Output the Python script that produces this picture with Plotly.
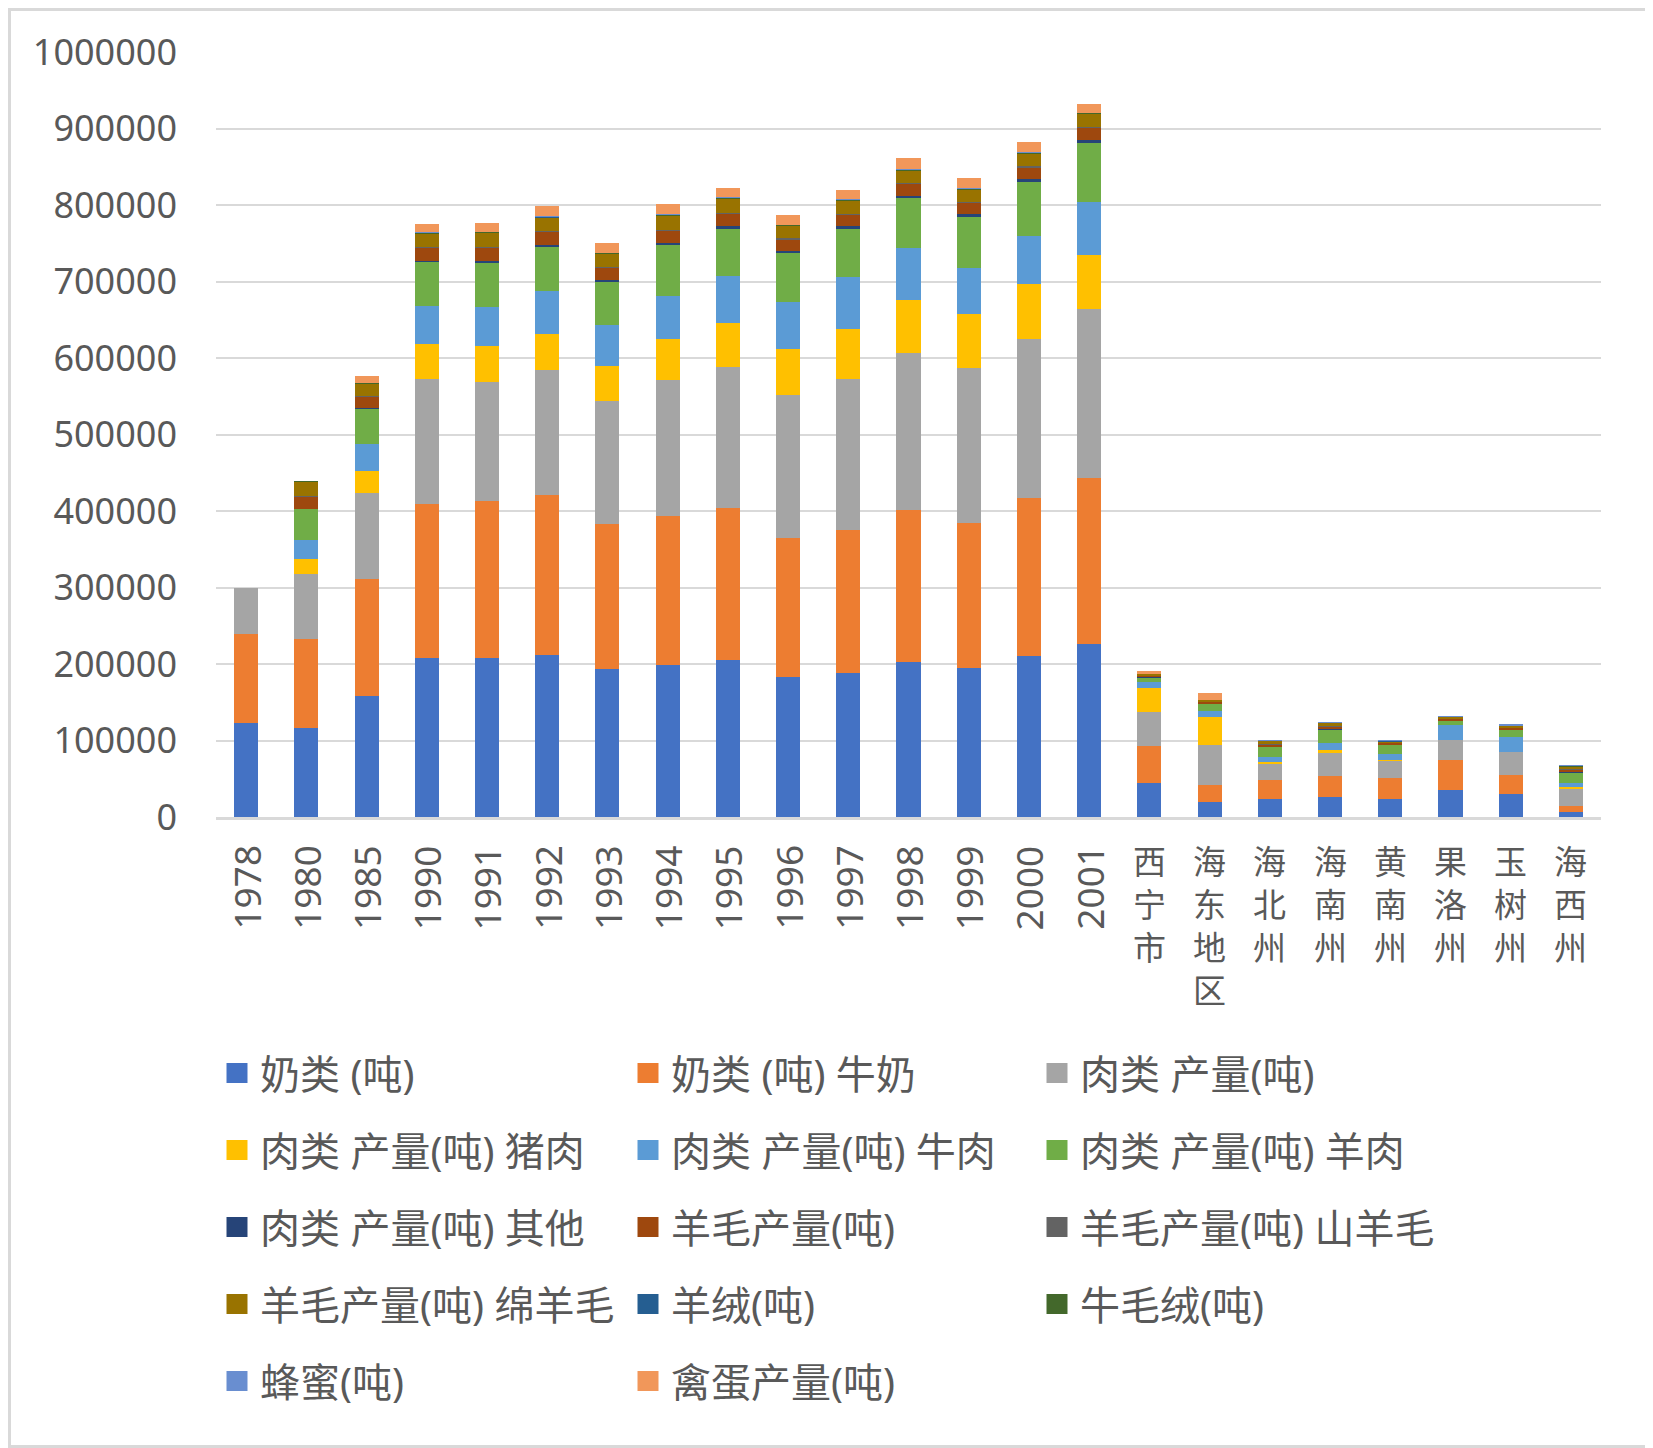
import plotly.graph_objects as go

categories = ['1978', '1980', '1985', '1990', '1991', '1992', '1993', '1994', '1995', '1996',
              '1997', '1998', '1999', '2000', '2001', '西宁市', '海东地区', '海北州', '海南州',
              '黄南州', '果洛州', '玉树州', '海西州']

milk_total = [123400, 116300, 157800, 207800, 207800, 212300, 194000, 199200, 204800, 183500,
              188800, 202600, 195300, 210500, 226100, 44900, 20100, 23500, 26700, 23500, 34900, 30100, 6500]
milk_cow = [116300, 116900, 153800, 201900, 204900, 209100, 189500, 194300, 199600, 181700,
            186900, 199200, 189000, 207000, 217600, 47500, 21300, 25400, 27400, 27100, 40100, 25300, 7900]
meat_total = [60300, 84900, 112400, 163400, 155900, 163400, 159900, 177700, 183800, 186900,
              197400, 205200, 202600, 207900, 220900, 44900, 53200, 20900, 30500, 22600, 25300, 29200, 22700]
meat_pork = [None, 19700, 27900, 44800, 46700, 46200, 45700, 53200, 57200, 59300,
             64400, 68400, 70200, 70900, 69700, 31300, 36100, 2100, 2600, 900, None, None, 2100]
meat_beef = [None, 24800, 35300, 50600, 51400, 57100, 54500, 57200, 62300, 62300,
             68900, 68900, 60200, 62800, 70100, 7500, 7500, 6500, 10000, 8800, 19600, 20000, 5700]
meat_mutton = [None, 40000, 46600, 57000, 57100, 57900, 56300, 65700, 62200, 64500,
               63500, 64800, 67000, 71000, 76700, 6900, 10000, 13100, 17000, 12100, 6500, 9600, 13500]
meat_other = [None, None, 1500, 1200, 3500, 2200, 1700, 3500, 2300, 2200,
              2300, 2700, 3900, 3900, 4400, 300, 300, 200, 200, 200, 200, 200, 200]
wool_total = [None, 16000, 14500, 17300, 16800, 17300, 16400, 15500, 16300, 15100,
              15600, 16500, 14700, 15600, 15500, 2000, 2000, 3500, 4400, 1600, 1900, 2400, 3600]
wool_goat = [None, 800, 1000, 1000, 1000, 1000, 1000, 1000, 1000, 1000,
             1000, 1000, 1000, 1000, 1000, 300, 400, 600, 700, 500, 600, 600, 700]
wool_sheep = [None, 18800, 15600, 17800, 18600, 17700, 17300, 19100, 19100, 16400,
              17300, 16000, 16500, 16900, 17300, 1500, 2300, 4000, 3500, 2000, 2000, 2000, 3400]
cashmere = [None, 300, 300, 400, 400, 400, 400, 400, 400, 400,
            400, 400, 400, 400, 400, 100, 100, 200, 200, 200, 200, 200, 200]
yak_hair = [None, 600, 800, 800, 800, 800, 800, 800, 800, 800,
            800, 800, 800, 800, 800, 100, 100, 300, 300, 300, 600, 600, 200]
honey = [None, None, 300, 300, 300, 300, 300, 300, 300, 300,
         300, 300, 300, 300, 300, 200, 200, 100, 100, 100, 100, 100, 100]
eggs = [None, None, 8100, 10500, 10800, 12500, 12000, 13300, 11600, 12000,
        11500, 14200, 12900, 12900, 10700, 4000, 7900, None, None, None, None, None, None]

series_names = ['奶类 (吨)', '奶类 (吨) 牛奶', '肉类 产量(吨)', '肉类 产量(吨) 猪肉', '肉类 产量(吨) 牛肉',
                '肉类 产量(吨) 羊肉', '肉类 产量(吨) 其他', '羊毛产量(吨)', '羊毛产量(吨) 山羊毛',
                '羊毛产量(吨) 绵羊毛', '羊绒(吨)', '牛毛绒(吨)', '蜂蜜(吨)', '禽蛋产量(吨)']
series_values = [milk_total, milk_cow, meat_total, meat_pork, meat_beef, meat_mutton, meat_other,
                 wool_total, wool_goat, wool_sheep, cashmere, yak_hair, honey, eggs]
colors = ['#4472C4', '#ED7D31', '#A5A5A5', '#FFC000', '#5B9BD5', '#70AD47', '#264478',
          '#9E480E', '#636363', '#997300', '#255E91', '#43682B', '#698ED0', '#F1975A']

y_ticks = [0, 100000, 200000, 300000, 400000, 500000, 600000, 700000, 800000, 900000, 1000000]

# The page body has an 8px default margin; lay the figure out in window pixels.
OFF = 8
WIN_W, WIN_H = 1653, 1448
W, H = WIN_W - OFF, WIN_H - OFF
PLOT_L, PLOT_R, PLOT_T, PLOT_B = 216, 1601, 52, 817   # window px
L, T = PLOT_L - OFF, PLOT_T - OFF
R = W - (PLOT_R - OFF)
B = H - (PLOT_B - OFF)
PW, PH = PLOT_R - PLOT_L, PLOT_B - PLOT_T

def px(xw):
    return (xw - PLOT_L) / PW

def py(yw):
    return (PLOT_B - yw) / PH

TEXT = '#595959'
FONT = 'Noto Sans, Noto Sans CJK SC, sans-serif'

fig = go.Figure()
for name, vals, col in zip(series_names, series_values, colors):
    fig.add_trace(go.Bar(x=categories, y=vals, name=name, marker=dict(color=col, line=dict(width=0)),
                         showlegend=False))

annotations = []
for i, c in enumerate(categories):
    if c.isdigit():
        annotations.append(dict(x=i, xref='x', y=0, yref='paper', yshift=-26, text=c,
                                textangle=-90, showarrow=False, xanchor='center', yanchor='top',
                                font=dict(family=FONT, size=37, color=TEXT)))
    else:
        annotations.append(dict(x=i, xref='x', y=0, yref='paper', yshift=-17,
                                text='<br>'.join(list(c)), showarrow=False,
                                xanchor='center', yanchor='top',
                                font=dict(family='Noto Sans CJK SC', size=33, color=TEXT)))

# legend (3 columns)
shapes = []
col_sq = [237, 648, 1057]
row_y = [1073, 1150, 1227, 1304, 1381]
for i, (name, col) in enumerate(zip(series_names, colors)):
    r, cidx = divmod(i, 3)
    cx, cy = col_sq[cidx], row_y[r]
    shapes.append(dict(type='rect', xref='paper', yref='paper', x0=px(cx - 10.5), x1=px(cx + 10.5),
                       y0=py(cy + 10), y1=py(cy - 10), fillcolor=col, line=dict(width=0)))
    annotations.append(dict(x=px(cx + 21), xref='paper', y=py(cy), yref='paper', text=name,
                            showarrow=False, xanchor='left', yanchor='middle',
                            font=dict(family=FONT, size=40, color=TEXT)))

# outer border along the figure edges
shapes.append(dict(type='rect', xref='paper', yref='paper', x0=px(OFF + 1.5), x1=px(WIN_W - 1.5),
                   y0=py(WIN_H - 1.5), y1=py(OFF + 1.5), line=dict(color='#D9D9D9', width=3),
                   fillcolor='rgba(0,0,0,0)', layer='below'))

fig.update_layout(
    width=W, height=H,
    margin=dict(l=L, r=R, t=T, b=B),
    barmode='stack', bargap=0.6,
    paper_bgcolor='white', plot_bgcolor='white',
    font=dict(family=FONT, size=36, color=TEXT),
    showlegend=False,
    annotations=annotations,
    shapes=shapes,
)
fig.update_xaxes(type='category', categoryorder='array', categoryarray=categories,
                 range=[-0.5, len(categories) - 0.5], autorange=False,
                 showticklabels=False, showgrid=False, showline=True, linecolor='#D9D9D9',
                 linewidth=2.5, ticks='', zeroline=False)
fig.update_yaxes(range=[0, 1000000], autorange=False, tickvals=y_ticks, tickformat='d', showgrid=True,
                 gridcolor='#D9D9D9', gridwidth=2, zeroline=False, showline=False, ticks='',
                 ticklabelstandoff=38, tickfont=dict(family=FONT, size=36, color=TEXT))

fig.write_html('out.html')
